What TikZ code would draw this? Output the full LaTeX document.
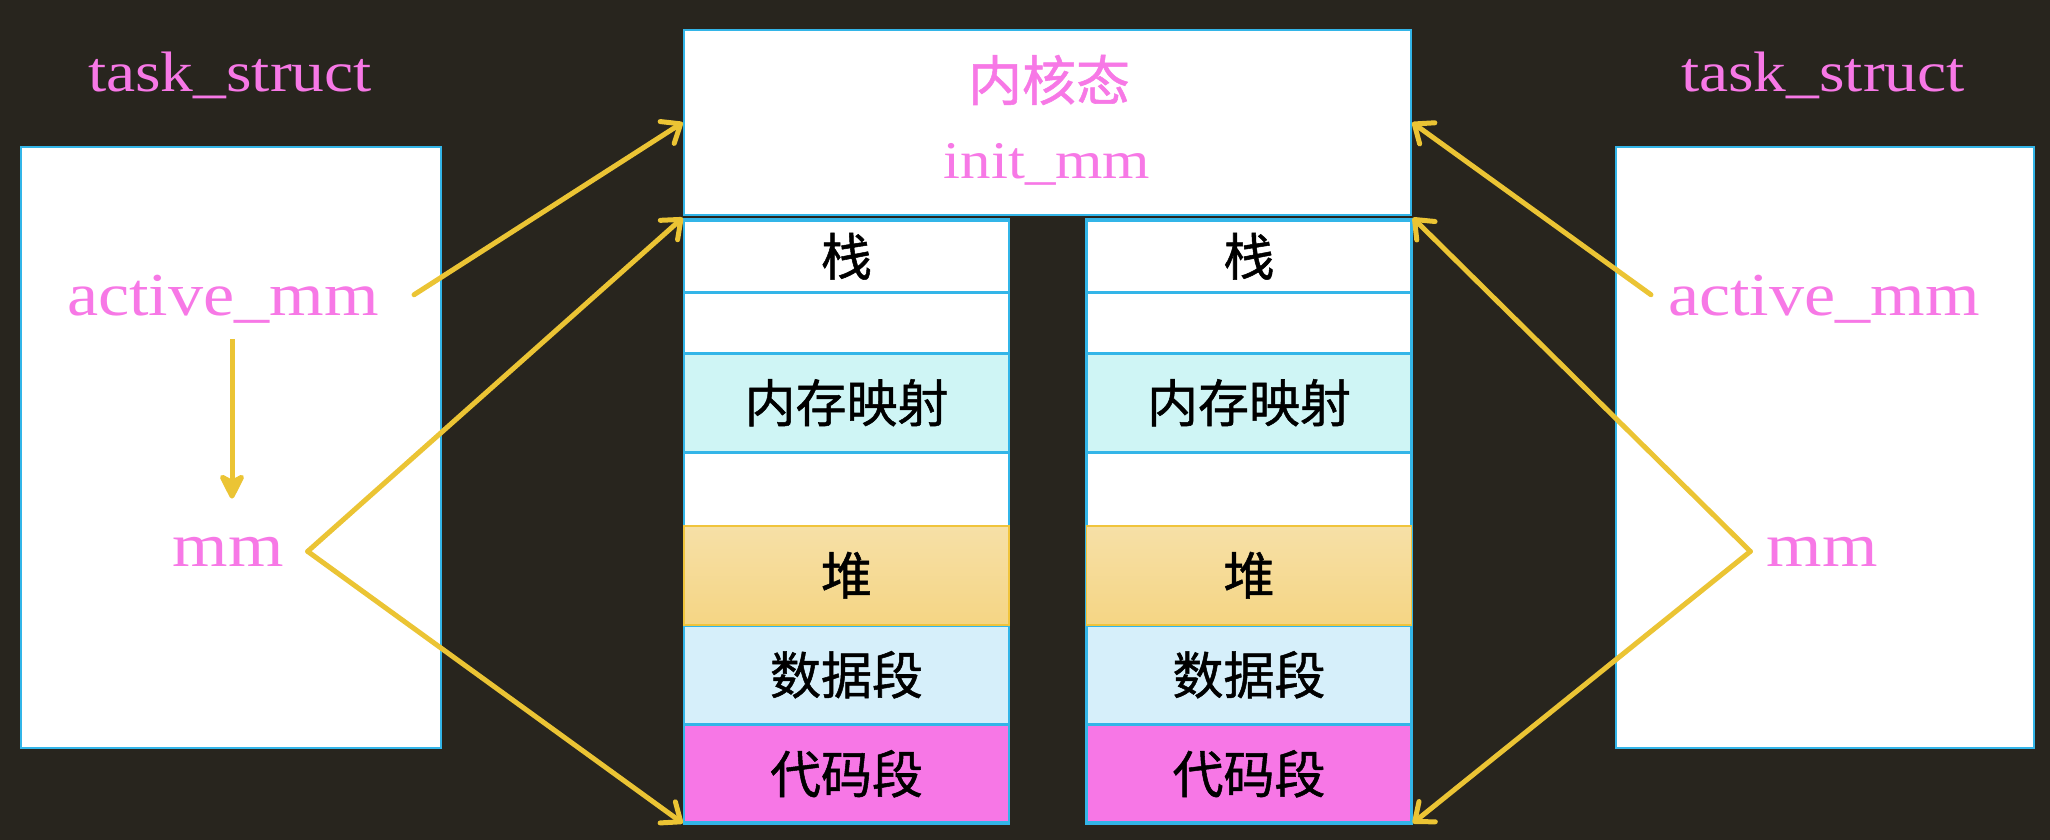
\documentclass[tikz,border=0pt]{standalone}
\usepackage{fontspec}
\setmainfont[FakeStretch=1.15]{Liberation Serif}
\newfontfamily\cjk[FakeBold=1.0]{Noto Sans CJK SC}
\newfontfamily\cjkt[FakeBold=1.0]{Noto Sans CJK SC}
\usetikzlibrary{arrows.meta}
\definecolor{bg}{HTML}{28251E}
\definecolor{pinkt}{HTML}{F778E6}
\definecolor{bord}{HTML}{33B5E8}
\definecolor{arrowc}{HTML}{EBC434}
\definecolor{mapc}{HTML}{CFF5F5}
\definecolor{datac}{HTML}{D6EFFA}
\definecolor{codec}{HTML}{F777E6}
\definecolor{heapt}{HTML}{F6E0A7}
\definecolor{heapb}{HTML}{F5D584}
\definecolor{heapline}{HTML}{F0C43C}
\begin{document}
\begin{tikzpicture}[x=1pt,y=-1pt,
  lat/.style={text=pinkt, inner sep=0pt, anchor=base},
  bigbox/.style={draw=bord, fill=white, line width=2.5pt, inner sep=0pt},
  seg/.style={draw=bord, line width=2.5pt, minimum width=325pt, inner sep=0pt, anchor=north,
    font=\cjk\fontsize{51}{60}\selectfont, text=black},
  colframe/.style={draw=bord, line width=2.5pt, minimum width=325pt, minimum height=603pt, inner sep=0pt},
  arr/.style={draw=arrowc, line width=5pt, line cap=round,
    -{Straight Barb[length=16pt,width=26pt,round]}},
  varr/.style={draw=arrowc, line width=5pt, -{Stealth[length=30pt,width=30pt,inset=8pt,round]}}]
\useasboundingbox (0,0) rectangle (2050,840);
\fill[bg] (0,0) rectangle (2050,840);

% task_struct boxes
\node[bigbox, minimum width=420pt, minimum height=601pt] (boxL) at (231,447.5) {};
\node[bigbox, minimum width=418pt, minimum height=601pt] (boxR) at (1825,447.5) {};

% kernel box
\node[bigbox, minimum width=727pt, minimum height=185pt] (top) at (1047.5,122.5) {};
\node[text=pinkt, inner sep=0pt, font=\cjkt\fontsize{54}{60}\selectfont] (kern) at (1049,80) {内核态};
\node[lat, font=\fontsize{53}{60}\selectfont] (init) at (1047,178) {init\_mm};

% left column
\node[seg, fill=white, minimum height=72pt] (L1) at (846.5,219) {栈};
\node[seg, fill=white, minimum height=61pt] (L2) at (846.5,291) {};
\node[seg, fill=mapc, minimum height=99pt] (L3) at (846.5,352) {内存映射};
\node[seg, fill=white, minimum height=74pt] (L4) at (846.5,451) {};
\node[seg, fill=datac, minimum height=99pt] (L6) at (846.5,624) {数据段};
\node[seg, fill=codec, minimum height=99pt] (L7) at (846.5,723) {代码段};
\node[colframe] (colL) at (846.5,520.5) {};
\node[seg, top color=heapt, bottom color=heapb, draw=heapline, line width=1.5pt, minimum height=99pt] (L5) at (846.5,525) {堆};

% right column
\node[seg, fill=white, minimum height=72pt] (R1) at (1249,219) {栈};
\node[seg, fill=white, minimum height=61pt] (R2) at (1249,291) {};
\node[seg, fill=mapc, minimum height=99pt] (R3) at (1249,352) {内存映射};
\node[seg, fill=white, minimum height=74pt] (R4) at (1249,451) {};
\node[seg, fill=datac, minimum height=99pt] (R6) at (1249,624) {数据段};
\node[seg, fill=codec, minimum height=99pt] (R7) at (1249,723) {代码段};
\node[colframe] (colR) at (1249,520.5) {};
\node[seg, top color=heapt, bottom color=heapb, draw=heapline, line width=1.5pt, minimum height=99pt] (R5) at (1249,525) {堆};

% labels
\node[lat, font=\fontsize{57}{60}\selectfont] (tsL) at (230,92) {task\_struct};
\node[lat, font=\fontsize{57}{60}\selectfont] (tsR) at (1823,92) {task\_struct};
\node[lat, font=\fontsize{61}{70}\selectfont] (amL) at (223,315) {active\_mm};
\node[lat, font=\fontsize{61}{70}\selectfont] (amR) at (1824,315) {active\_mm};
\node[lat, font=\fontsize{62}{70}\selectfont] (mmL) at (228,566) {mm};
\node[lat, font=\fontsize{62}{70}\selectfont] (mmR) at (1822,566) {mm};

% arrows
\draw[varr] ([xshift=9pt,yshift=-16pt]amL.south) -- ([xshift=4pt,yshift=38pt]mmL.north);
\draw[arr] ([xshift=35pt,yshift=4pt]amL.east) -- (top.west);
\draw[arr] ([xshift=24pt]mmL.east) -- (colL.north west);
\draw[arr] ([xshift=24pt]mmL.east) -- (colL.south west);
\draw[arr] ([xshift=-17pt,yshift=4pt]amR.west) -- (top.east);
\draw[arr] ([xshift=-16pt]mmR.west) -- (colR.north east);
\draw[arr] ([xshift=-16pt]mmR.west) -- (colR.south east);
\end{tikzpicture}
\end{document}
